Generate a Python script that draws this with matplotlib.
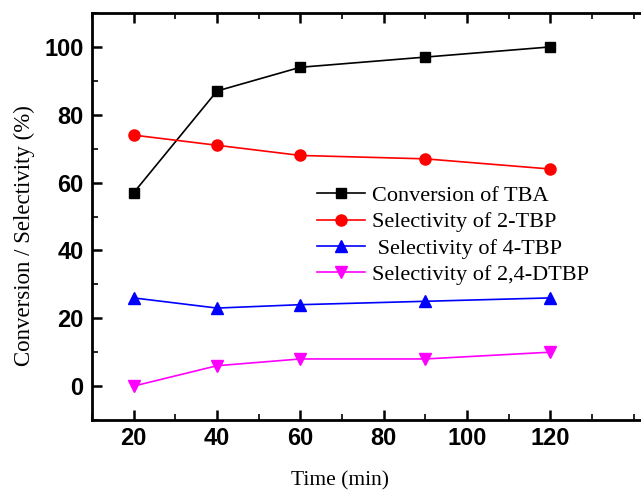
import matplotlib
matplotlib.use("Agg")
import matplotlib.pyplot as plt
from matplotlib.ticker import MultipleLocator

time = [20, 40, 60, 90, 120]
conv_tba = [57, 87, 94, 97, 100]
sel_2tbp = [74, 71, 68, 67, 64]
sel_4tbp = [26, 23, 24, 25, 26]
sel_24dtbp = [0, 6, 8, 8, 10]

labels = ["Conversion of TBA", "Selectivity of 2-TBP", " Selectivity of 4-TBP", "Selectivity of 2,4-DTBP"]

fig = plt.figure(figsize=(6.41, 4.90), dpi=100)
ax = fig.add_axes([92/641, 70/490, 550/641, 407/490])

ax.plot(time, conv_tba, color="black", marker="s", ms=6.5, lw=1.2, label=labels[0])
ax.plot(time, sel_2tbp, color="red", marker="o", ms=8, lw=1.2, label=labels[1])
ax.plot(time, sel_4tbp, color="blue", marker="^", ms=8, lw=1.2, label=labels[2])
ax.plot(time, sel_24dtbp, color="magenta", marker="v", ms=8, lw=1.2, label=labels[3])

ax.set_xlim(10, 142)
ax.set_ylim(-10, 110)
ax.xaxis.set_major_locator(MultipleLocator(20))
ax.xaxis.set_minor_locator(MultipleLocator(10))
ax.yaxis.set_major_locator(MultipleLocator(20))
ax.yaxis.set_minor_locator(MultipleLocator(10))
ax.set_xticks([20, 40, 60, 80, 100, 120])

for s in ["left", "bottom", "top"]:
    ax.spines[s].set_linewidth(2)
ax.spines["right"].set_visible(False)

ax.tick_params(which="major", direction="in", length=7, width=1.8, top=True, right=False)
ax.tick_params(which="minor", direction="in", length=4, width=1.2, top=True, right=False)
ax.tick_params(axis="y", which="major", pad=6)
ax.tick_params(axis="x", which="major", pad=5)

for lab in ax.get_xticklabels() + ax.get_yticklabels():
    lab.set_fontfamily("Liberation Sans")
    lab.set_fontweight("bold")
    lab.set_fontsize(17)

ax.set_xlabel("Time (min)", fontfamily="Liberation Serif", fontsize=15.5)
ax.set_ylabel("Conversion / Selectivity (%)", fontfamily="Liberation Serif", fontsize=16.5)
ax.xaxis.set_label_coords(0.451, -0.127)
ax.yaxis.set_label_coords(-0.104, 0.452)

leg = ax.legend(loc="upper left", bbox_to_anchor=(0.409, 0.576), frameon=False,
                prop={"family": "Liberation Serif", "size": 16},
                borderpad=0, borderaxespad=0, handlelength=2.15, handletextpad=0.33,
                labelspacing=0.26)

fig.savefig("out.png", dpi=100)
